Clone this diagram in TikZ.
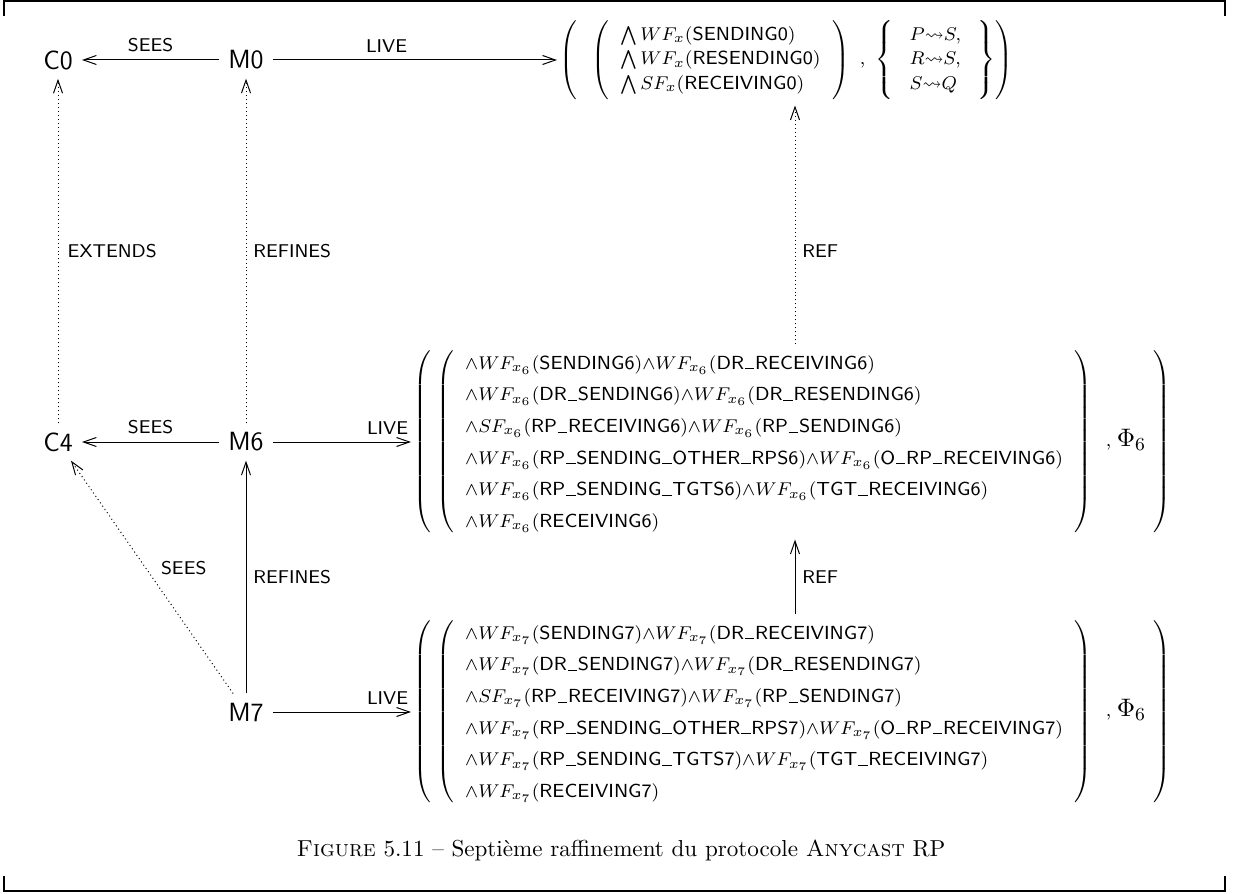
\documentclass[tikz,border=0pt]{standalone}
\usepackage{amsmath,amssymb}
\usetikzlibrary{arrows.meta}
\newcommand{\sft}[1]{\textsf{#1}}
\newcommand{\us}{\kern.04em\vbox{\hrule width .5em height .42pt}\kern.04em}
\newcommand{\wg}{\mathord{\wedge}}
\newcommand{\lto}{\mathord{\leadsto}}
\newcommand{\tall}[1]{\vcenter{\hbox{\rule{0pt}{#1}}}}
\newcommand{\frows}[1]{%
\wg WF_{x_{#1}}(\sft{SENDING#1})\wg WF_{x_{#1}}(\sft{DR\us RECEIVING#1})\\
\wg WF_{x_{#1}}(\sft{DR\us SENDING#1})\wg WF_{x_{#1}}(\sft{DR\us RESENDING#1})\\
\wg SF_{x_{#1}}(\sft{RP\us RECEIVING#1})\wg WF_{x_{#1}}(\sft{RP\us SENDING#1})\\
\wg WF_{x_{#1}}(\sft{RP\us SENDING\us OTHER\us RPS#1})\wg WF_{x_{#1}}(\sft{O\us RP\us RECEIVING#1})\\
\wg WF_{x_{#1}}(\sft{RP\us SENDING\us TGTS#1})\wg WF_{x_{#1}}(\sft{TGT\us RECEIVING#1})\\
\wg WF_{x_{#1}}(\sft{RECEIVING#1})}
\newcommand{\bigform}[1]{{\renewcommand{\arraystretch}{1.39}%
$\left(\hspace{2pt}\left(\begin{array}{l}\frows{#1}\end{array}\right)\hspace{4.5pt},\hspace{1pt}\mbox{\fontsize{11}{13}\selectfont$\Phi_6$}\hspace{3pt}\right)$}}
\begin{document}
\begin{tikzpicture}[x=0.4329pt,y=-0.4329pt,
  nm/.style={font=\fontsize{11.4}{13.7}\selectfont\sffamily, inner sep=3.8pt},
  lab/.style={font=\fontsize{8}{9.6}\selectfont\sffamily, inner xsep=1pt, inner ysep=3.2pt},
  frm/.style={font=\fontsize{8.2}{9.84}\selectfont, inner sep=1pt},
  arr/.style={-{Straight Barb[length=5.6pt,width=3.9pt]}, line width=0.43pt},
  dotarr/.style={arr, dash pattern=on 0.43pt off 1.3pt},
  frame/.style={line width=0.65pt}]
\useasboundingbox (0,0) rectangle (1243,893);
\draw[frame] (4,16) -- (4,1) -- (1225,1) -- (1225,16);
\draw[frame] (4,876) -- (4,891) -- (1225,891) -- (1225,876);

\node[nm] (C0) at (58,60) {C0};
\node[nm] (M0) at (246,60) {M0};
\node[nm] (C4) at (58,442) {C4};
\node[nm] (M6) at (246,442) {M6};
\node[nm] (M7) at (246,712) {M7};

\node[frm, anchor=west] (F0) at (557,60) {{\renewcommand{\arraystretch}{1.08}%
$\left(\hspace{6pt}\left(\tall{37pt}\begin{array}{l}
\bigwedge WF_x(\sft{SENDING0})\\
\bigwedge WF_x(\sft{RESENDING0})\\
\bigwedge SF_x(\sft{RECEIVING0})
\end{array}\right)\hspace{3pt},\hspace{3pt}
\left\{\tall{37pt}\hspace{2pt}\begin{array}{l}
P\lto S,\\ R\lto S,\\ S\lto Q
\end{array}\hspace{2pt}\right\}\right)$}};
\node[frm, anchor=west] (F6) at (411,442) {\bigform{6}};
\node[frm, anchor=west] (F7) at (411,712) {\bigform{7}};
\coordinate (refx) at (795,0);

\draw[arr] (M0) -- node[lab,above]{SEES} (C0);
\draw[arr] (M0) -- node[lab,above,pos=0.4]{LIVE} (F0);
\draw[dotarr] (C4) -- node[lab,right=3pt]{EXTENDS} (C0);
\draw[dotarr] (M6) -- node[lab,right=2pt]{REFINES} (M0);
\draw[dotarr] (refx |- F6.north) -- node[lab,right=2pt,pos=0.39]{REF} (refx |- F0.south);
\draw[arr] (M6) -- node[lab,above]{SEES} (C4);
\draw[arr] (M6) -- node[lab,above,pos=0.83]{LIVE} (F6);
\draw[dotarr] (M7) -- node[lab,right=5.5pt,pos=0.54]{SEES} (C4);
\draw[arr] (M7) -- node[lab,right=2pt]{REFINES} (M6);
\draw[arr] (refx |- F7.north) -- node[lab,right=2pt]{REF} (refx |- F6.south);
\draw[arr] (M7) -- node[lab,above,pos=0.83]{LIVE} (F7);

\node[font=\fontsize{10}{12}\selectfont] (cap) at (621,850) {\textsc{Figure} 5.11 -- Septième raffinement du protocole \textsc{Anycast} RP};
\end{tikzpicture}
\end{document}
